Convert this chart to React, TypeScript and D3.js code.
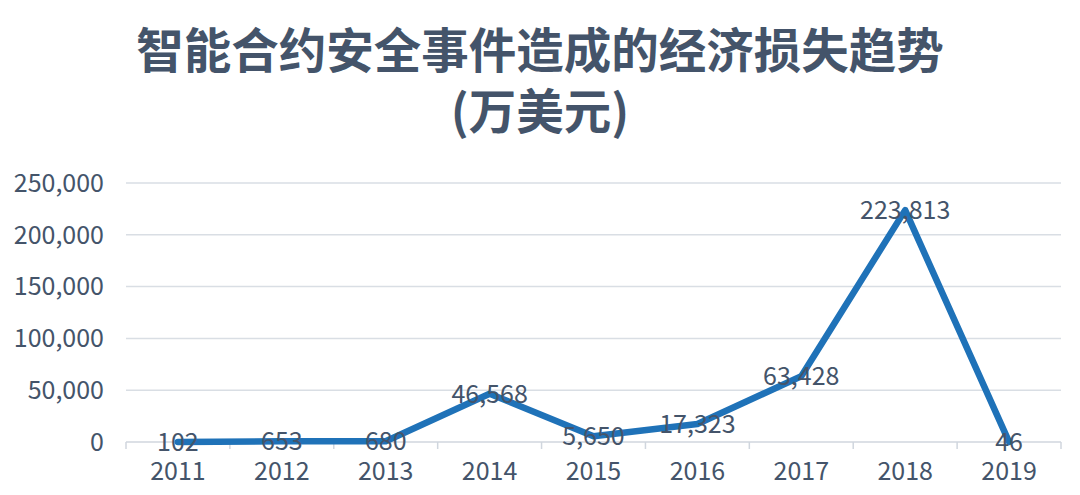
import React from 'react';
import {scaleBand, scaleLinear, line, format} from 'd3';

const years = ['2011', '2012', '2013', '2014', '2015', '2016', '2017', '2018', '2019'];
const losses = [102, 653, 680, 46568, 5650, 17323, 63428, 223813, 46];
const yTicks = [0, 50000, 100000, 150000, 200000, 250000];
const titleLines = ['智能合约安全事件造成的经济损失趋势', '(万美元)'];

const W = 1080;
const H = 495;
const textColor = '#44546a';
const font = '"Noto Sans CJK SC", "Liberation Sans", sans-serif';

const App = (): JSX.Element => {
    const x = scaleBand<string>().domain(years).range([126, 1061]);
    const y = scaleLinear().domain([0, 250000]).range([442, 183]);
    const fmt = format(',');

    const path = line<number>()
        .x((d, i) => (x(years[i]) as number) + x.bandwidth() / 2)
        .y((d) => y(d));

    const bounds = years.map((yr) => x(yr) as number).concat([x.range()[1]]);

    return (
        <svg width={W} height={H} viewBox={`0 0 ${W} ${H}`}
             style={{position: 'absolute', left: 0, top: 0, fontFamily: font}}>
            <rect width={W} height={H} fill="#fff"/>
            {titleLines.map((t, i) => (
                <text key={t} x={540} y={68 + i * 61} textAnchor="middle" fontSize={47.5}
                      fontWeight="bold" fill={textColor}>{t}</text>
            ))}
            {yTicks.map((t) => (
                <g key={t}>
                    {t > 0 && <line x1={126} x2={1061} y1={y(t)} y2={y(t)} stroke="#d9dee4" strokeWidth={1.5}/>}
                    <text x={104} y={y(t)} dy="0.35em" textAnchor="end" fontSize={25} fill={textColor}>{fmt(t)}</text>
                </g>
            ))}
            <line x1={126} x2={1061} y1={y(0)} y2={y(0)} stroke="#d0d6de" strokeWidth={1.5}/>
            {bounds.map((b, i) => (
                <line key={i} x1={b} x2={b} y1={y(0)} y2={y(0) + 7} stroke="#d0d6de" strokeWidth={1.5}/>
            ))}
            {years.map((yr) => (
                <text key={yr} x={(x(yr) as number) + x.bandwidth() / 2} y={480} textAnchor="middle"
                      fontSize={25} fill={textColor}>{yr}</text>
            ))}
            <path d={path(losses) || ''} fill="none" stroke="#1f72b8" strokeWidth={6.5}
                  strokeLinejoin="round" strokeLinecap="round"/>
            {losses.map((v, i) => (
                <text key={i} x={(x(years[i]) as number) + x.bandwidth() / 2} y={y(v)} dy="0.35em"
                      textAnchor="middle" fontSize={25} fill={textColor}>{fmt(v)}</text>
            ))}
        </svg>
    );
};

export default App;
